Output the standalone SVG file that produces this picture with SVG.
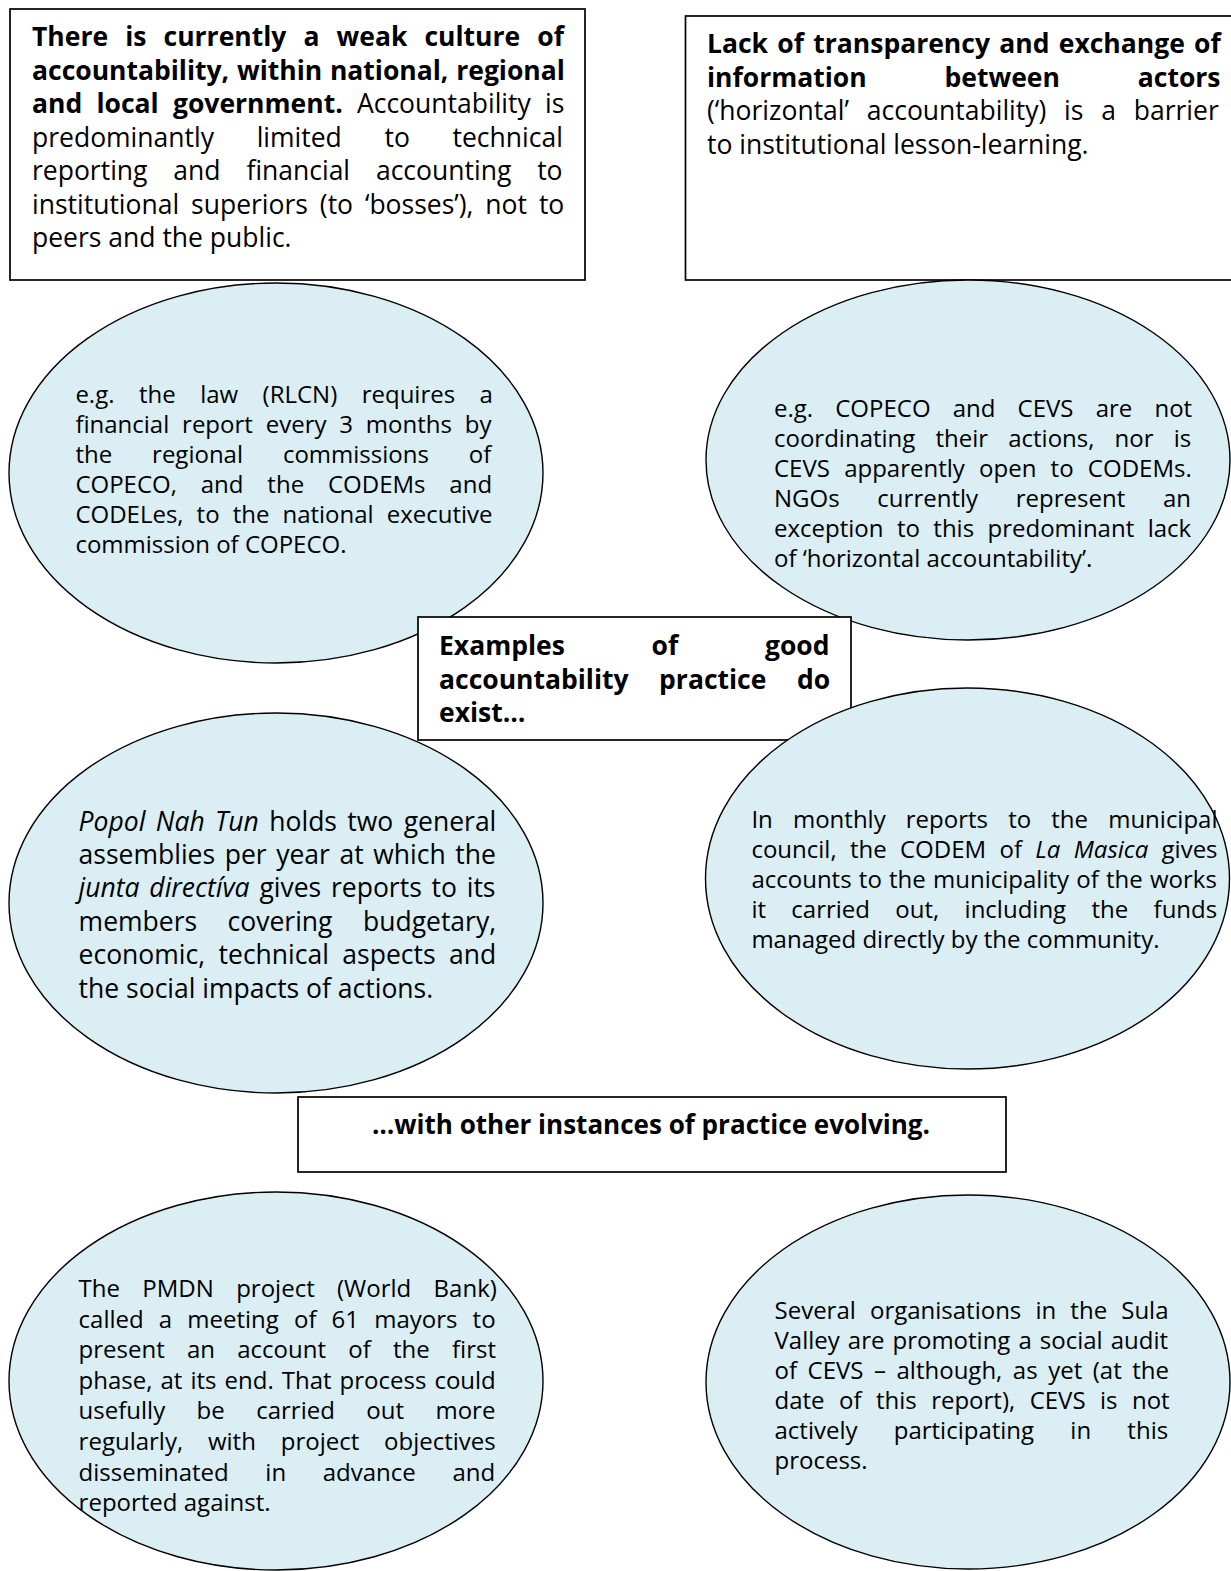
<svg xmlns="http://www.w3.org/2000/svg" width="1231" height="1571" viewBox="0 0 1231 1571">
<style>
.t{font-family:"Open Sans","Noto Sans","DejaVu Sans",sans-serif;fill:#000}
.f1{font-size:26.5px}
.f2{font-size:24px}
.b{font-weight:700}
.i{font-style:italic}
.ell{fill:#DAEEF3;stroke:#000;stroke-width:1.4}
.box{fill:#fff;stroke:#000;stroke-width:1.7}
</style>
<rect width="1231" height="1571" fill="#fff"/>
<g id="connectors"/>
<g id="rect-weak-culture">
<rect class="box" x="10" y="9" width="575" height="271"/>
<text class="t f1 b" x="32" y="46" word-spacing="10.2">There is currently a weak culture of</text>
<text class="t f1 b" x="32" y="79.5" word-spacing="0.9">accountability, within national, regional</text>
<text class="t f1" x="32" y="113" word-spacing="7.4"><tspan class="b">and local government.</tspan> Accountability is</text>
<text class="t f1" x="32" y="146.5" word-spacing="35.8">predominantly limited to technical</text>
<text class="t f1" x="32" y="180" word-spacing="19">reporting and financial accounting to</text>
<text class="t f1" x="32" y="213.5" word-spacing="5">institutional superiors (to ‘bosses’), not to</text>
<text class="t f1" x="32" y="247">peers and the public.</text>
</g>
<g id="rect-transparency">
<rect class="box" x="685.5" y="16" width="560" height="264"/>
<text class="t f1 b" x="707" y="53" word-spacing="2.4">Lack of transparency and exchange of</text>
<text class="t f1 b" x="707" y="86.5" word-spacing="71">information between actors</text>
<text class="t f1" x="707" y="120" word-spacing="10.9">(‘horizontal’ accountability) is a barrier</text>
<text class="t f1" x="707" y="153.5">to institutional lesson-learning.</text>
</g>
<g id="ellipse-rlcn">
<ellipse class="ell" cx="276" cy="473" rx="267" ry="190"/>
<text class="t f2" x="75.4" y="403" word-spacing="18.2">e.g. the law (RLCN) requires a</text>
<text class="t f2" x="75.4" y="433" word-spacing="6.6">financial report every 3 months by</text>
<text class="t f2" x="75.4" y="463" word-spacing="33.7">the regional commissions of</text>
<text class="t f2" x="75.4" y="493" word-spacing="17.6">COPECO, and the CODEMs and</text>
<text class="t f2" x="75.4" y="523" word-spacing="6.8">CODELes, to the national executive</text>
<text class="t f2" x="75.4" y="553">commission of COPECO.</text>
</g>
<g id="ellipse-copeco-cevs">
<ellipse class="ell" cx="968" cy="460" rx="262" ry="180"/>
<text class="t f2" x="774" y="417" word-spacing="15.9">e.g. COPECO and CEVS are not</text>
<text class="t f2" x="774" y="447" word-spacing="13.9">coordinating their actions, nor is</text>
<text class="t f2" x="774" y="477" word-spacing="8">CEVS apparently open to CODEMs.</text>
<text class="t f2" x="774" y="507" word-spacing="31.5">NGOs currently represent an</text>
<text class="t f2" x="774" y="537" word-spacing="7.2">exception to this predominant lack</text>
<text class="t f2" x="774" y="567">of ‘horizontal accountability’.</text>
</g>
<g id="ellipse-popol">
<ellipse class="ell" cx="276" cy="903" rx="267" ry="190"/>
<text class="t f1" x="78.6" y="831" word-spacing="3.5"><tspan class="i">Popol Nah Tun</tspan> holds two general</text>
<text class="t f1" x="78.6" y="864" word-spacing="2.7">assemblies per year at which the</text>
<text class="t f1" x="78.6" y="897" word-spacing="2.9"><tspan class="i">junta directíva</tspan> gives reports to its</text>
<text class="t f1" x="78.6" y="930.5" word-spacing="23.6">members covering budgetary,</text>
<text class="t f1" x="78.6" y="964" word-spacing="6.6">economic, technical aspects and</text>
<text class="t f1" x="78.6" y="997.5">the social impacts of actions.</text>
</g>
<g id="box-examples">
<rect class="box" x="418" y="617" width="433" height="123"/>
<text class="t f1 b" x="439" y="655" word-spacing="79.8">Examples of good</text>
<text class="t f1 b" x="439" y="688.5" word-spacing="23.6">accountability practice do</text>
<text class="t f1 b" x="439" y="722">exist…</text>
</g>
<g id="ellipse-la-masica">
<ellipse class="ell" cx="967.5" cy="878.5" rx="262" ry="190.5"/>
<text class="t f2" x="751.4" y="828" word-spacing="13.9">In monthly reports to the municipal</text>
<text class="t f2" x="751.4" y="858" word-spacing="7.1">council, the CODEM of <tspan class="i">La Masica</tspan> gives</text>
<text class="t f2" x="751.4" y="888" word-spacing="1">accounts to the municipality of the works</text>
<text class="t f2" x="751.4" y="918" word-spacing="19.1">it carried out, including the funds</text>
<text class="t f2" x="751.4" y="948">managed directly by the community.</text>
</g>
<g id="box-evolving">
<rect class="box" x="298" y="1097" width="708" height="75"/>
<text class="t f1 b" x="372" y="1134" textLength="558" lengthAdjust="spacingAndGlyphs">…with other instances of practice evolving.</text>
</g>
<g id="ellipse-pmdn">
<ellipse class="ell" cx="276" cy="1381" rx="267" ry="189"/>
<text class="t f2" x="78.6" y="1297" word-spacing="16.1">The PMDN project (World Bank)</text>
<text class="t f2" x="78.6" y="1327.6" word-spacing="8.9">called a meeting of 61 mayors to</text>
<text class="t f2" x="78.6" y="1358.2" word-spacing="16">present an account of the first</text>
<text class="t f2" x="78.6" y="1388.8" word-spacing="1.8">phase, at its end. That process could</text>
<text class="t f2" x="78.6" y="1419.4" word-spacing="25.2">usefully be carried out more</text>
<text class="t f2" x="78.6" y="1450" word-spacing="18.6">regularly, with project objectives</text>
<text class="t f2" x="78.6" y="1480.6" word-spacing="30.4">disseminated in advance and</text>
<text class="t f2" x="78.6" y="1511.2">reported against.</text>
</g>
<g id="ellipse-sula">
<ellipse class="ell" cx="968" cy="1382" rx="262" ry="187"/>
<text class="t f2" x="774.5" y="1319" word-spacing="7.9">Several organisations in the Sula</text>
<text class="t f2" x="774.5" y="1349" word-spacing="1.8">Valley are promoting a social audit</text>
<text class="t f2" x="774.5" y="1379" word-spacing="4.3">of CEVS – although, as yet (at the</text>
<text class="t f2" x="774.5" y="1409" word-spacing="8.2">date of this report), CEVS is not</text>
<text class="t f2" x="774.5" y="1439" word-spacing="30">actively participating in this</text>
<text class="t f2" x="774.5" y="1469">process.</text>
</g>
</svg>
